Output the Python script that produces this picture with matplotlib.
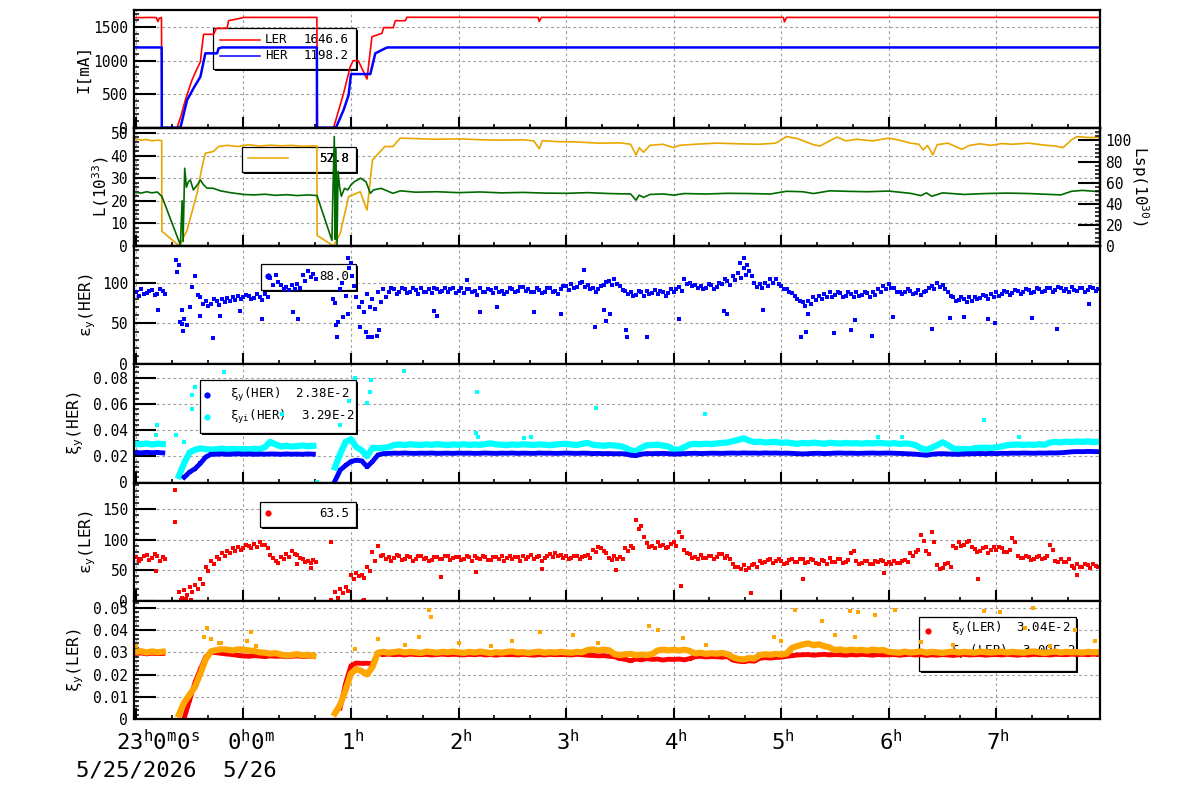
import numpy as np
import matplotlib
matplotlib.use('Agg')
import matplotlib.pyplot as plt
from matplotlib.patches import Rectangle
from matplotlib.lines import Line2D
from matplotlib.ticker import MultipleLocator, FuncFormatter

plt.rcParams['font.family'] = 'DejaVu Sans Mono'
plt.rcParams['mathtext.fontset'] = 'custom'
plt.rcParams['mathtext.rm'] = 'DejaVu Sans Mono'
plt.rcParams['mathtext.it'] = 'DejaVu Sans Mono'
plt.rcParams['mathtext.bf'] = 'DejaVu Sans Mono:bold'

nan = np.nan

# time axis: hours after 23:00 (5/25); scatter channels sampled every 3 min
T = np.arange(180) * 0.05

# ---- beam current I [mA], break points ----
LER_T = [0.00, 0.10, 0.19, 0.205, 0.215, 0.238, 0.241, 0.243, 0.383, 0.42, 0.46, 0.49, 0.522, 0.56,
         0.60, 0.615, 0.63, 0.723, 0.748, 0.848, 0.862, 0.971, 1.0, 1.683, 1.685, 1.687, 1.838,
         1.88, 1.931, 1.993, 2.02, 2.068, 2.149, 2.195, 2.288, 2.303, 2.393, 2.412, 2.505, 2.52,
         3.74, 3.75, 3.77, 6.02, 6.03, 6.05, 8.964]
LER_I = [1642, 1645, 1644, 1584, 1630, 1645, 600, 0, 0, 180, 413, 560, 712, 850,
         985, 1209, 1394, 1394, 1483, 1483, 1597, 1633, 1646, 1646, 830, 0, 0,
         230, 513, 910, 1000, 1000, 727, 1358, 1409, 1493, 1493, 1597, 1597, 1648,
         1646, 1585, 1646, 1646, 1580, 1646, 1646]
HER_T = [0.0, 0.240, 0.241, 0.414, 0.476, 0.54, 0.60, 0.646, 0.755, 0.77, 0.80, 1.683, 1.684,
         1.86, 1.931, 1.978, 2.0, 2.18, 2.226, 2.319, 2.34, 8.964]
HER_I = [1198, 1198, 0, 0, 413, 600, 761, 1110, 1110, 1185, 1198, 1198, 0,
         0, 264, 488, 801, 801, 1110, 1185, 1198, 1198]

# ---- luminosity L [1e33] ----
LUM_T = [0.0, 0.05, 0.1, 0.15, 0.2, 0.24, 0.242, 0.404, 0.476, 0.569, 0.615, 0.646, 0.72, 0.77,
         0.85, 0.95, 1.05, 1.15, 1.25, 1.35, 1.45, 1.55, 1.65, 1.683, 1.685, 1.838, 1.90, 1.978,
         2.086, 2.149, 2.20, 2.315, 2.39, 2.458, 2.6, 2.8, 3.0, 3.2, 3.4, 3.6, 3.7, 3.75, 3.78,
         3.9, 4.1, 4.3, 4.5, 4.6, 4.65, 4.68, 4.72, 4.78, 4.9, 5.0, 5.05, 5.2, 5.4, 5.6, 5.8,
         5.95, 6.05, 6.15, 6.3, 6.36, 6.45, 6.52, 6.6, 6.7, 6.85, 7.0, 7.1, 7.2, 7.28, 7.32,
         7.36, 7.41, 7.45, 7.55, 7.62, 7.68, 7.75, 7.85, 7.95, 8.05, 8.15, 8.3, 8.45, 8.55,
         8.62, 8.7, 8.75, 8.85, 8.964]
LUM_L = [47.3, 46.8, 47.1, 46.5, 46.8, 46.6, 6.5, 0.0, 7.0, 23.3, 35.0, 41.0, 41.8, 44.0,
         44.5, 44.0, 44.8, 44.2, 44.6, 44.3, 44.5, 44.1, 44.3, 44.2, 4.7, 0.0, 5.6, 21.8,
         24.0, 15.9, 38.0, 44.0, 44.0, 47.7, 47.5, 47.2, 47.4, 47.0, 46.8, 47.0, 46.5, 43.0, 46.6,
         46.2, 46.0, 45.5, 45.6, 45.0, 40.3, 43.5, 41.5, 44.5, 45.0, 43.5, 44.5, 45.0, 45.5, 45.2, 45.0,
         45.5, 48.4, 47.5, 44.8, 44.2, 46.5, 48.2, 46.5, 47.2, 46.5, 47.7, 46.8, 45.5, 45.0, 42.5,
         44.5, 40.3, 44.8, 45.5, 44.0, 42.8, 44.5, 45.2, 44.5, 45.3, 45.0, 45.5, 44.6, 44.2,
         43.5, 47.0, 48.4, 48.0, 48.0]
SPEC_T = [0.0, 0.05, 0.1, 0.15, 0.2, 0.243, 0.414, 0.43, 0.439, 0.454, 0.47, 0.488, 0.506, 0.535,
          0.571, 0.60, 0.63, 0.662, 0.72, 0.785, 0.878, 1.0, 1.1, 1.2, 1.3, 1.4, 1.5, 1.6, 1.684,
          1.823, 1.83, 1.845, 1.852, 1.86, 1.87, 1.88, 1.895, 1.91, 1.94, 1.97, 2.0, 2.03, 2.09,
          2.14, 2.18, 2.21, 2.28, 2.39, 2.46, 2.6, 2.8, 3.0, 3.2, 3.4, 3.6, 3.8, 4.0, 4.2, 4.4,
          4.6, 4.65, 4.68, 4.72, 4.78, 4.9, 5.0, 5.1, 5.3, 5.5, 5.7, 5.9, 6.05, 6.2, 6.3, 6.45,
          6.6, 6.8, 7.0, 7.2, 7.3, 7.35, 7.4, 7.5, 7.7, 7.9, 8.1, 8.3, 8.5, 8.6, 8.7, 8.8, 8.964]
SPEC_L = [23.7, 23.4, 24.0, 23.5, 23.9, 21.8, 0.4, 20.0, 2.0, 34.4, 26.0, 28.4, 29.2, 24.8,
          27.0, 29.2, 27.0, 25.6, 25.5, 24.4, 23.6, 22.8, 22.6, 22.9, 22.4, 22.7, 22.3, 22.6, 22.3,
          2.5, 20.0, 48.4, 3.0, 43.0, 0.5, 33.0, 26.0, 22.0, 25.5, 24.8, 27.0, 28.4, 30.0,
          28.4, 23.3, 24.8, 25.5, 23.3, 24.4, 23.8, 24.0, 23.6, 23.9, 23.5, 23.7, 23.4, 23.3, 23.6, 23.2,
          23.0, 20.3, 22.5, 21.5, 22.8, 23.0, 22.5, 23.2, 23.0, 23.3, 23.2, 23.0, 24.2, 24.0, 23.2, 24.4,
          24.2, 24.0, 24.3, 23.3, 22.3, 23.5, 22.0, 23.5, 22.8, 23.2, 23.4, 23.2, 22.8, 22.6, 24.2, 24.6, 24.0]

# ---- vertical emittance HER (two readings per 3-min slot) ----
EPS_HER_A = [
    88, 92, 87, 91, 86, 90, nan, nan, 122, 55, 70, 108, 82, 77, 74, 78, 80, 81, 83, 84,
    82, 84, 81, 83, 86, 106, 109, 97, 95, 97, 99, 109, 114, 111, nan, nan, nan, 75, 92, 84,
    124, 82, 76, 86, 80, 88, 92, 88, 92, 89, 92, 88, 91, 94, 89, 87, 92, 90, 88, 93,
    90, 87, 92, 90, 93, 89, 91, 94, 90, 88, 92, 90, 95, 92, 89, 91, 88, 93, 90, 92,
    96, 99, 95, 101, 97, 94, 92, 97, 102, 105, 96, 90, 88, 85, 88, 90, 87, 86, 88, 87,
    88, 95, 104, 100, 97, 96, 93, 97, 95, 99, 102, 108, 112, 118, 114, 100, 98, 100, 105, 104,
    96, 92, 87, 80, 76, 78, 82, 84, 86, 88, 85, 87, 84, 86, 88, 85, 87, 88, 92, 96,
    98, 93, 89, 88, 90, 87, 85, 90, 96, 100, 97, 88, 82, 79, 80, 82, 83, 81, 84, 86,
    88, 86, 89, 87, 90, 88, 91, 89, 92, 90, 93, 91, 94, 92, 95, 90, 93, 91, 94, 92]
EPS_HER_B = [
    84, 86, 90, 85, 92, 86, nan, nan, 66, 48, 95, 85, 74, 71, 80, 73, 76, 77, 79, 80,
    85, 80, 86, 79, 82, 97, 101, 92, 91, 92, 94, 102, 107, 105, nan, nan, nan, 52, 58, 62,
    96, 70, 64, 70, 68, 76, 82, 94, 86, 94, 87, 93, 86, 88, 92, 93, 88, 94, 92, 87,
    94, 92, 88, 85, 88, 92, 87, 89, 86, 93, 88, 95, 90, 88, 93, 87, 93, 89, 86, 96,
    91, 94, 100, 95, 92, 89, 96, 101, 97, 98, 91, 86, 84, 90, 84, 86, 91, 90, 84, 92,
    92, 90, 98, 96, 93, 92, 98, 92, 100, 104, 97, 103, 106, 110, 108, 95, 94, 96, 100, 99,
    92, 88, 84, 77, 72, 74, 79, 80, 82, 83, 89, 83, 88, 82, 84, 89, 83, 85, 88, 92,
    94, 89, 86, 92, 86, 91, 89, 94, 92, 95, 92, 84, 78, 83, 76, 78, 80, 85, 80, 82,
    84, 90, 85, 91, 86, 92, 87, 93, 88, 94, 89, 95, 90, 88, 91, 94, 89, 95, 90, 88]
EPS_HER_OUT_T = [0.21, 0.37, 0.38, 0.41, 0.43, 0.44, 0.60, 0.72, 0.78, 0.97, 1.17, 1.46, 1.51,
                 1.83, 1.86, 1.87, 1.92, 1.97, 1.98, 2.01, 2.08, 2.14, 2.16, 2.20, 2.24, 2.26,
                 2.77, 2.80, 3.08, 3.20, 3.36, 3.70, 3.95, 4.17, 4.27, 4.35, 4.37, 4.41, 4.56,
                 4.57, 4.75, 5.05, 5.47, 5.50, 5.62, 5.65, 5.68, 5.83, 6.18, 6.23, 6.25, 6.49,
                 6.65, 6.69, 6.84, 7.04, 7.40, 7.57, 7.70, 7.92, 7.99, 8.33, 8.56, 8.86]
EPS_HER_OUT_V = [66, 128, 113, 52, 49, 41, 59, 32, 59, 65, 56, 64, 56,
                 80, 48, 34, 100, 130, 118, 108, 46, 39, 34, 34, 35, 42,
                 65, 59, 103, 64, 70, 64, 62, 116, 46, 67, 53, 62, 42,
                 34, 34, 55, 65, 62, 124, 130, 122, 67, 34, 39, 62, 38,
                 42, 54, 35, 58, 43, 57, 58, 55, 51, 57, 43, 74]

# ---- beam-beam parameter HER [1e-3] ----
XI_HER = [
    22.8, 22.6, 23.0, 22.7, 22.9, 22.6, nan, nan, nan, 4.0, 8.0, 10.5, 14.6, 19.5, 21.5, 21.6, 21.8, 21.5, 21.7, 21.9,
    21.6, 21.8, 21.5, 21.7, 21.6, 21.8, 21.7, 21.5, 21.8, 21.6, 21.7, 21.5, 21.8, 21.6, nan, nan, nan, 1.0, 9.5, 13.0,
    16.0, 17.0, 16.5, 12.0, 16.0, 21.0, 22.0, 22.2, 22.4, 22.3, 22.5, 22.3, 22.2, 22.4, 22.3, 22.5, 22.2, 22.3, 22.4, 22.2,
    22.5, 22.3, 22.4, 22.2, 22.3, 22.5, 22.3, 22.2, 22.4, 22.3, 22.5, 22.2, 22.4, 22.3, 22.2, 22.5, 22.3, 22.4, 22.2, 22.3,
    22.5, 22.3, 22.2, 22.4, 22.3, 22.1, 22.2, 22.0, 22.1, 21.9, 22.0, 21.8, 20.8, 20.5, 21.6, 22.1, 22.0, 22.1, 22.2, 22.0,
    21.6, 21.8, 22.0, 22.2, 22.3, 22.1, 22.2, 22.4, 22.3, 22.2, 22.4, 22.5, 22.3, 22.6, 22.4, 22.5, 22.3, 22.6, 22.4, 22.5,
    22.3, 22.4, 22.2, 22.0, 21.8, 22.0, 22.2, 22.3, 22.1, 22.2, 22.4, 22.5, 22.3, 22.4, 22.2, 22.3, 22.4, 22.5, 22.3, 22.4,
    22.5, 22.3, 22.2, 22.0, 21.8, 21.6, 21.2, 20.8, 21.5, 21.9, 22.0, 21.8, 21.6, 21.5, 21.8, 21.9, 22.0, 22.1, 22.0, 22.2,
    22.0, 22.3, 22.2, 22.4, 22.3, 22.5, 22.4, 22.3, 22.5, 22.4, 22.6, 22.5, 22.7, 23.0, 23.4, 23.6, 23.5, 23.7, 23.6, 23.5]
XII_HER = [
    29.5, 29.2, 29.8, 29.0, 29.6, 29.3, nan, nan, 5.0, 15.0, 23.0, 25.0, 26.0, 25.5, 25.0, 25.4, 25.8, 25.2, 25.6, 25.3,
    25.5, 25.2, 25.7, 25.4, 27.0, 31.0, 29.0, 27.5, 28.0, 27.4, 27.8, 28.2, 27.6, 28.0, nan, nan, nan, 11.5, 22.0, 31.0,
    33.0, 27.0, 24.5, 20.0, 26.4, 26.2, 26.5, 27.0, 28.6, 29.0, 28.5, 29.2, 28.8, 28.6, 29.1, 28.7, 29.3, 28.9, 28.5, 29.0,
    28.8, 29.2, 28.6, 29.0, 28.7, 29.3, 29.9, 29.1, 28.8, 28.5, 29.0, 28.7, 29.2, 28.9, 28.6, 29.1, 28.8, 28.4, 28.9, 29.3,
    29.5, 29.0, 28.6, 29.5, 30.2, 28.8, 28.4, 28.0, 28.6, 28.2, 27.8, 26.5, 24.5, 24.0, 26.5, 28.4, 28.6, 28.8, 28.2, 27.5,
    25.2, 25.0, 27.0, 29.0, 29.5, 29.2, 29.6, 29.3, 29.8, 30.2, 30.5, 31.5, 32.5, 33.7, 32.0, 30.8, 31.2, 30.5, 30.8, 31.0,
    30.2, 30.6, 30.0, 29.5, 30.2, 29.8, 30.4, 30.0, 29.6, 30.3, 30.0, 29.7, 30.2, 29.8, 30.0, 29.6, 30.1, 29.8, 30.3, 30.0,
    29.6, 30.0, 29.4, 29.8, 29.5, 28.5, 26.0, 25.0, 26.5, 28.5, 30.7, 28.5, 26.0, 25.4, 25.6, 25.2, 26.2, 26.4, 26.6, 26.3,
    26.8, 27.5, 28.5, 28.7, 29.0, 28.6, 28.9, 28.7, 29.2, 28.8, 30.5, 31.0, 30.6, 31.2, 30.8, 31.3, 31.0, 31.4, 30.9, 31.1]
XII_HER_OUT_T = [0.20, 0.19, 0.37, 0.45, 0.52, 0.52, 0.55, 0.82, 1.36, 1.684, 1.90, 1.98, 2.04,
                 2.15, 2.19, 2.18, 2.49, 3.17, 3.16, 3.18, 3.61, 3.67, 4.28, 5.29, 6.90, 7.12,
                 7.89, 8.21]
XII_HER_OUT_V = [44, 36, 36, 31, 67, 56, 73, 84, 52, 0.5, 44, 62, 80,
                 61, 78, 69, 85, 69, 38, 35, 34, 35, 57, 52, 35, 35,
                 48, 35]

# ---- vertical emittance LER ----
EPS_LER_A = [
    72, 68, 75, 70, 74, 71, nan, nan, 14, 18, 22, 26, 36, 55, 65, 72, 78, 82, 86, 89,
    87, 90, 93, 97, 92, 75, 65, 72, 76, 82, 75, 68, 66, 67, nan, nan, nan, 15, 20, 23,
    42, 45, 43, 55, 80, 90, 75, 72, 70, 73, 68, 72, 69, 74, 70, 67, 72, 69, 73, 70,
    72, 68, 71, 74, 69, 72, 67, 71, 73, 70, 68, 72, 74, 71, 69, 73, 70, 76, 78, 75,
    73, 70, 74, 71, 75, 84, 88, 82, 70, 73, 72, 86, 90, 132, 122, 94, 90, 96, 92, 88,
    96, 112, 84, 76, 72, 75, 70, 74, 71, 76, 73, 60, 56, 58, 54, 61, 66, 63, 68, 65,
    66, 62, 68, 64, 69, 63, 67, 61, 66, 70, 64, 68, 63, 78, 66, 62, 65, 61, 64, 66,
    64, 66, 62, 67, 78, 80, 108, 82, 112, 58, 54, 62, 90, 96, 92, 98, 85, 82, 88, 84,
    83, 86, 80, 103, 74, 70, 72, 68, 73, 70, 92, 66, 69, 64, 57, 60, 55, 58, 61, 56]
EPS_LER_B = [
    65, 74, 67, 77, 66, 68, nan, nan, 5, 10, 15, 20, 28, 48, 60, 68, 74, 79, 81, 84,
    91, 86, 88, 91, 86, 70, 62, 68, 71, 76, 70, 64, 62, 63, nan, nan, nan, 5, 12, 16,
    36, 40, 38, 48, 66, 74, 68, 66, 75, 67, 73, 66, 74, 68, 65, 72, 68, 74, 67, 71,
    67, 73, 66, 70, 74, 67, 72, 68, 66, 73, 71, 66, 69, 75, 72, 66, 74, 72, 73, 70,
    68, 74, 69, 73, 70, 80, 86, 78, 67, 69, 68, 82, 86, 118, 105, 88, 86, 90, 87, 93,
    90, 104, 78, 70, 68, 70, 74, 68, 76, 70, 68, 55, 52, 50, 58, 56, 62, 67, 62, 69,
    61, 67, 63, 69, 62, 68, 62, 67, 61, 64, 69, 62, 67, 82, 61, 66, 60, 65, 67, 60,
    60, 62, 66, 63, 74, 84, 98, 76, 96, 52, 60, 56, 86, 90, 97, 88, 80, 86, 79, 88,
    88, 80, 84, 96, 70, 73, 67, 72, 69, 74, 84, 63, 64, 68, 53, 56, 60, 54, 57, 59]
EPS_LER_OUT_T = [0.19, 0.36, 0.36, 0.42, 0.47, 0.51, 0.58, 1.50, 1.63, 1.81, 1.81, 2.11, 2.12,
                 2.84, 3.16, 3.78, 4.46, 5.07, 5.72, 6.20, 6.96, 7.83, 8.75]
EPS_LER_OUT_V = [48, 181, 129, 2, 3, 1, 20, 60, 53, 96, 1, 0, 2,
                 39, 47, 52, 51, 25, 12, 36, 45, 36, 42]

# ---- beam-beam parameter LER [1e-3] ----
XI_LER = [
    29.5, 29.7, 29.3, 29.6, 29.4, 29.5, nan, nan, nan, 0.5, 8.5, 16.5, 22.4, 28.0, 30.0, 29.8, 29.5, 29.2, 29.0, 28.6,
    28.4, 28.2, 28.5, 28.3, 28.1, 28.4, 28.2, 28.3, 28.0, 28.2, 28.4, 28.1, 28.3, 28.2, nan, nan, nan, nan, 5.0, 16.0,
    24.0, 25.2, 25.0, 25.1, 24.8, 29.5, 29.0, 29.2, 28.9, 29.1, 28.8, 29.2, 29.0, 28.9, 29.1, 28.8, 29.0, 29.2, 28.9, 29.1,
    29.0, 28.8, 29.1, 28.9, 29.2, 28.8, 29.0, 28.7, 29.1, 28.9, 29.0, 28.8, 29.1, 28.9, 28.7, 29.0, 28.8, 29.1, 28.9, 29.0,
    29.0, 28.8, 29.1, 28.9, 28.7, 28.6, 28.4, 28.5, 28.2, 28.0, 27.2, 26.8, 26.2, 27.0, 26.6, 27.2, 26.8, 27.0, 26.5, 26.9,
    26.8, 27.0, 26.6, 27.2, 28.0, 28.2, 27.9, 28.1, 28.0, 27.8, 28.1, 26.5, 26.0, 25.8, 26.2, 26.0, 27.3, 27.6, 27.4, 27.7,
    27.8, 28.2, 28.5, 28.8, 28.9, 29.0, 28.7, 28.9, 29.1, 28.8, 29.0, 28.9, 28.7, 29.0, 28.8, 29.1, 28.9, 28.7, 29.0, 28.8,
    28.9, 29.0, 28.7, 28.9, 29.1, 28.8, 29.0, 28.6, 28.9, 28.7, 29.0, 28.8, 28.6, 28.9, 29.1, 28.8, 28.9, 29.0, 28.7, 28.9,
    29.0, 28.8, 29.1, 28.9, 28.7, 29.0, 28.8, 29.1, 28.9, 29.0, 28.8, 29.1, 29.0, 28.9, 29.2, 29.0, 29.1, 28.9, 29.2, 29.0]
XII_LER = [
    30.2, 30.5, 29.9, 30.4, 30.0, 30.3, nan, nan, 2.0, 7.5, 11.0, 14.5, 20.5, 27.0, 30.5, 31.0, 31.4, 31.2, 30.8, 31.3,
    31.2, 30.8, 30.6, 30.0, 29.8, 29.4, 29.6, 29.0, 28.5, 28.8, 29.2, 28.6, 28.9, 28.4, nan, nan, nan, 2.5, 6.5, 13.0,
    20.5, 22.5, 21.5, 20.0, 23.5, 29.8, 30.2, 29.8, 30.1, 30.4, 29.9, 30.2, 30.0, 29.7, 30.3, 30.1, 29.8, 30.2, 30.0, 30.3,
    30.0, 29.7, 30.2, 29.9, 30.3, 30.0, 29.6, 30.1, 29.8, 30.2, 30.4, 29.9, 30.1, 29.7, 30.0, 30.3, 29.8, 30.1, 29.9, 30.2,
    30.0, 29.8, 30.2, 30.0, 31.0, 31.3, 30.8, 31.2, 30.9, 29.2, 28.8, 29.1, 29.3, 28.7, 29.0, 28.8, 29.2, 30.8, 31.2, 30.9,
    31.1, 30.8, 31.2, 30.6, 29.5, 29.8, 29.3, 29.6, 29.4, 29.7, 29.2, 27.8, 27.0, 26.8, 27.4, 27.2, 28.8, 29.1, 28.9, 29.3,
    29.0, 29.4, 32.0, 32.8, 33.5, 34.0, 33.2, 33.6, 32.8, 32.2, 31.0, 31.3, 30.8, 31.2, 30.9, 31.1, 30.7, 31.2, 30.9, 31.0,
    30.2, 30.0, 29.8, 30.3, 29.9, 30.1, 30.4, 29.8, 30.2, 30.0, 29.7, 30.1, 30.3, 29.9, 30.2, 30.0, 29.8, 30.3, 30.1, 29.9,
    30.1, 30.3, 29.9, 30.2, 30.0, 29.8, 30.2, 30.4, 30.0, 29.7, 30.1, 30.3, 29.9, 30.2, 30.0, 30.1, 29.8, 30.2, 30.0, 30.1]
XII_LER_OUT_T = [0.0, 0.63, 0.66, 0.70, 0.77, 0.79, 1.03, 1.07, 1.12, 2.04, 2.25, 2.5, 2.63, 2.73,
                 2.74, 3.0, 3.3, 3.5, 3.76, 4.06, 4.3, 4.77, 4.85, 5.09, 5.3, 5.93, 6.0, 6.13,
                 6.38, 6.50, 6.64, 6.69, 6.71, 6.87, 7.06, 7.3, 7.6, 7.89, 8.03, 8.27, 8.34,
                 8.5, 8.73, 8.92]
XII_LER_OUT_V = [33, 37, 40.8, 36, 34, 34, 35, 39, 33, 31.5, 36, 33.5, 37, 49.1,
                 46.1, 34, 33, 35, 39, 38, 34, 41.8, 40, 36.5, 33.5, 37, 35, 49.1,
                 44, 38, 48.4, 37, 48, 47, 49, 34.5, 33.5, 48.4, 48, 41, 50,
                 33, 40, 35]

HOUR_LABELS = ['23$^{h}$0$^{m}$0$^{s}$', '0$^{h}$0$^{m}$', '1$^{h}$', '2$^{h}$', '3$^{h}$',
               '4$^{h}$', '5$^{h}$', '6$^{h}$', '7$^{h}$']

# ------------------------------------------------------------------
W, H = 1200.0, 798.0
X0, X1 = 133.5, 1100.0
TOP, PH = 9.5, 118.25

fig = plt.figure(figsize=(12, 7.98), dpi=100)


def fx(x):
    return x / W


def fy(y):
    return 1 - y / H


fmt = FuncFormatter(lambda v, p: '0' if abs(v) < 1e-12 else '%g' % v)


def style(ax, ymax, major, minor):
    ax.set_xlim(-0.022, 8.964)
    ax.set_ylim(0, ymax)
    ax.xaxis.set_major_locator(MultipleLocator(1))
    ax.xaxis.set_minor_locator(MultipleLocator(1 / 3))
    ax.yaxis.set_major_locator(MultipleLocator(major))
    ax.yaxis.set_minor_locator(MultipleLocator(minor))
    ax.yaxis.set_major_formatter(fmt)
    ax.tick_params(axis='x', which='major', direction='in', length=8, width=1.5, labelbottom=False)
    ax.tick_params(axis='x', which='minor', direction='in', length=3, width=1.2)
    ax.tick_params(axis='y', which='major', direction='in', length=16, width=1.5, labelsize=10.5, pad=4)
    ax.tick_params(axis='y', which='minor', direction='in', length=3.5, width=1.1)
    ax.grid(True, which='major', color='#a0a0a0', ls=(0, (2.5, 2.5)), lw=0.8)
    ax.set_axisbelow(True)
    for s in ax.spines.values():
        s.set_linewidth(1.6)


def box(ax, x0, y0, x1, y1):
    ax.add_patch(Rectangle((fx(x0 + 2), fy(y1 + 2)), (x1 - x0) / W, (y1 - y0) / H, transform=fig.transFigure,
                           facecolor='black', edgecolor='none', zorder=1, clip_on=False))
    ax.add_patch(Rectangle((fx(x0), fy(y1)), (x1 - x0) / W, (y1 - y0) / H, transform=fig.transFigure,
                           facecolor='white', edgecolor='black', lw=0.9, zorder=1.05, clip_on=False))


def ltext(ax, x, y, s, ha='left'):
    ax.text(fx(x), fy(y), s, transform=fig.transFigure, ha=ha, va='center', fontsize=9, zorder=1.1)


def lline(ax, x0, x1, y, color):
    ax.add_line(Line2D([fx(x0), fx(x1)], [fy(y), fy(y)], transform=fig.transFigure, color=color,
                       lw=1.1, zorder=1.1, clip_on=False))


def lmark(ax, x, y, color):
    ax.add_line(Line2D([fx(x)], [fy(y)], transform=fig.transFigure, marker='o', ms=4.5, mew=0,
                       color=color, ls='none', zorder=1.1, clip_on=False))


axes = []
for k in range(6):
    top = TOP + k * PH
    axes.append(fig.add_axes([fx(X0), fy(top + PH), (X1 - X0) / W, PH / H]))

ylims = [(1764, 500, 100), (52.3, 10, 2), (145, 50, 10), (0.0902, 0.02, 0.004), (194, 50, 10), (0.0532, 0.01, 0.002)]
for ax, (ym, ma, mi) in zip(axes, ylims):
    style(ax, ym, ma, mi)

xi = np.array(XI_HER) * 1e-3
xii = np.array(XII_HER) * 1e-3
xl = np.array(XI_LER) * 1e-3
xil = np.array(XII_LER) * 1e-3

# panel 1: currents
ax = axes[0]
ax.plot(LER_T, LER_I, color='red', lw=1.2)
ax.plot(HER_T, HER_I, color='blue', lw=1.8)
box(ax, 213, 27.7, 355.7, 69)
lline(ax, 220, 260, 39.7, 'red')
lline(ax, 220, 260, 55.7, 'blue')
ltext(ax, 265, 39.7, 'LER')
ltext(ax, 265, 55.7, 'HER')
ltext(ax, 349, 39.7, '1646.6', 'right')
ltext(ax, 349, 55.7, '1198.2', 'right')

# panel 2: luminosity
ax = axes[1]
ax.plot(LUM_T, LUM_L, color='#e8a600', lw=1.2)
ax.plot(SPEC_T, SPEC_L, color='#006a00', lw=1.2)
box(ax, 241.7, 146.7, 355.7, 171.7)
lline(ax, 248, 288, 158, '#e8a600')
ltext(ax, 349, 158, '52.8', 'right')
ltext(ax, 349, 158, '57.8', 'right')
ax2 = ax.twinx()
ax2.set_ylim(0, 112)
ax2.yaxis.set_major_locator(MultipleLocator(20))
ax2.yaxis.set_minor_locator(MultipleLocator(4))
ax2.tick_params(axis='y', which='major', direction='in', length=16, width=1.5, labelsize=10.5, pad=4)
ax2.tick_params(axis='y', which='minor', direction='in', length=3.5, width=1.1)
for s in ax2.spines.values():
    s.set_linewidth(1.6)

# panel 3: HER emittance
ax = axes[2]
ax.plot(T, EPS_HER_A, 's', ms=3.4, mew=0, color='blue')
ax.plot(T + 0.025, EPS_HER_B, 's', ms=3.4, mew=0, color='blue')
ax.plot(EPS_HER_OUT_T, EPS_HER_OUT_V, 's', ms=3, mew=0, color='blue')
box(ax, 260.7, 264.3, 355.7, 290)
lmark(ax, 268, 276, 'blue')
ltext(ax, 349, 276, '88.0', 'right')

# panel 4: HER beam-beam
ax = axes[3]
ax.plot(T, xii, '-s', lw=4.5, ms=3.4, mew=0, color='cyan')
ax.plot(XII_HER_OUT_T, np.array(XII_HER_OUT_V) * 1e-3, 's', ms=3, mew=0, color='cyan')
ax.plot(T, xi, '-s', lw=3.5, ms=3.4, mew=0, color='blue')
box(ax, 199.5, 380, 355.7, 433)
lmark(ax, 207, 395, 'blue')
lmark(ax, 207, 416.7, 'cyan')
ltext(ax, 230, 395, 'ξ$_{y}$(HER)  2.38E-2')
ltext(ax, 230, 416.7, 'ξ$_{yi}$(HER)  3.29E-2')

# panel 5: LER emittance
ax = axes[4]
ax.plot(T, EPS_LER_A, 's', ms=3.4, mew=0, color='red')
ax.plot(T + 0.025, EPS_LER_B, 's', ms=3.4, mew=0, color='red')
ax.plot(EPS_LER_OUT_T, EPS_LER_OUT_V, 's', ms=3, mew=0, color='red')
box(ax, 260, 501.7, 355.7, 526.7)
lmark(ax, 268, 513.3, 'red')
ltext(ax, 349, 513.3, '63.5', 'right')

# panel 6: LER beam-beam
ax = axes[5]
box(ax, 919.3, 617.3, 1075.7, 670.7)
lmark(ax, 928, 631, 'red')
lmark(ax, 928, 652, 'orange')
ltext(ax, 951, 629, 'ξ$_{y}$(LER)  3.04E-2')
ltext(ax, 951, 651.7, 'ξ$_{yi}$(LER)  3.09E-2')
ax.plot(T, xl, '-s', lw=3.5, ms=3.4, mew=0, color='red')
ax.plot(T, xil, '-s', lw=4.5, ms=3.4, mew=0, color='orange')
ax.plot(XII_LER_OUT_T, np.array(XII_LER_OUT_V) * 1e-3, 's', ms=3, mew=0, color='orange')

# time labels under the last panel
offs = [-20, -16, -10, -10, -10, -10, -10, -10, -10]
for h, lab, dx in zip(range(9), HOUR_LABELS, offs):
    ax.annotate(lab, xy=(h, 0), xycoords=('data', 'axes fraction'), xytext=(dx, -31),
                textcoords='offset pixels', ha='left', va='baseline', fontsize=16, annotation_clip=False)
fig.text(fx(76), fy(777), '5/25/2026  5/26', fontsize=16, va='baseline')

# axis titles
ylabels = ['I[mA]', 'L(10$^{33}$)', 'ε$_{y}$(HER)', 'ξ$_{y}$(HER)', 'ε$_{y}$(LER)', 'ξ$_{y}$(LER)']
ylx = [84, 101, 88, 76, 88, 76]
for k, (lab, x) in enumerate(zip(ylabels, ylx)):
    fig.text(fx(x), fy(TOP + (k + 0.5) * PH), lab, rotation=90, ha='center', va='center', fontsize=11.5)
fig.text(fx(1140), fy(186), 'Lsp(10$^{30}$)', rotation=270, ha='center', va='center', fontsize=11.5)

fig.savefig('out.png', dpi=100)
